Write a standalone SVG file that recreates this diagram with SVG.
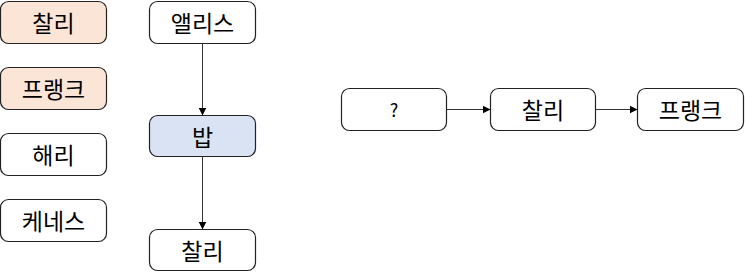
<svg xmlns="http://www.w3.org/2000/svg" width="745" height="278" viewBox="0 0 745 278">
<defs>
<style>
.n{stroke:#222;stroke-width:1.2;fill:#fff}
.p{fill:#fbe5d6}
.b{fill:#dae3f3}
text{font-family:"Noto Sans CJK KR","Noto Sans",sans-serif;font-size:23px;fill:#000;text-anchor:middle;dominant-baseline:central}
.c{stroke:#333;stroke-width:1;fill:none;marker-end:url(#a)}
</style>
<marker id="a" viewBox="0 0 10 10" refX="10" refY="5" markerWidth="8" markerHeight="8" markerUnits="userSpaceOnUse" orient="auto"><path d="M0,0L10,5L0,10z" fill="#000"/></marker>
</defs>
<g id="n1"><rect class="n p" x="0.5" y="1.5" width="106" height="42" rx="8"/><text x="53.5" y="22">찰리</text></g>
<g id="n2"><rect class="n p" x="0.5" y="67.5" width="106" height="42" rx="8"/><text x="53.5" y="88">프랭크</text></g>
<g id="n3"><rect class="n" x="0.5" y="133.5" width="106" height="42" rx="8"/><text x="53.5" y="154">해리</text></g>
<g id="n4"><rect class="n" x="0.5" y="199.5" width="106" height="42" rx="8"/><text x="53.5" y="220">케네스</text></g>
<g id="n5"><rect class="n" x="149.5" y="1.5" width="106" height="42" rx="8"/><text x="202.5" y="22">앨리스</text></g>
<g id="n6"><rect class="n b" x="149.5" y="115.5" width="106" height="41" rx="8"/><text x="202.5" y="136">밥</text></g>
<g id="n7"><rect class="n" x="149.5" y="229.5" width="106" height="41" rx="8"/><text x="202.5" y="250">찰리</text></g>
<g id="n8"><rect class="n" x="341.5" y="88.5" width="105" height="42" rx="8"/><text x="394" y="109" style="font-size:18px">?</text></g>
<g id="n9"><rect class="n" x="490.5" y="88.5" width="105" height="42" rx="8"/><text x="543" y="109">찰리</text></g>
<g id="n10"><rect class="n" x="637.5" y="88.5" width="106" height="42" rx="8"/><text x="690.5" y="109">프랭크</text></g>
<g id="connectors">
<path class="c" d="M202.5,43.5V115.5"/>
<path class="c" d="M202.5,156.5V229.5"/>
<path class="c" d="M446.5,109.5H490.5"/>
<path class="c" d="M595.5,109.5H637.5"/>
</g>
</svg>
